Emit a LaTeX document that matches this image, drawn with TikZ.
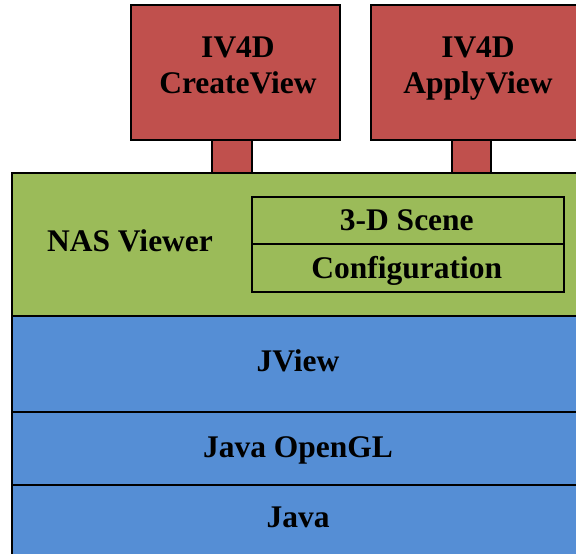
\documentclass[tikz,border=0pt]{standalone}
\usepackage{fontspec}
\setmainfont{Liberation Serif}
\definecolor{redfill}{HTML}{C0504D}
\definecolor{greenfill}{HTML}{9BBB59}
\definecolor{bluefill}{HTML}{558ED5}
\begin{document}
\begin{tikzpicture}[x=1pt,y=-1pt,
  box/.style={draw=black, line width=2pt, rectangle, inner sep=0pt, anchor=north west},
  redbox/.style={box, fill=redfill},
  greenbox/.style={box, fill=greenfill},
  bluebox/.style={box, fill=bluefill},
  lbl/.style={font=\bfseries\fontsize{31.5}{36}\selectfont, align=center, inner sep=0pt}
]
\useasboundingbox (0,0) rectangle (576,554);
\clip (0,0) rectangle (576,554);
% top red boxes
\node[redbox, minimum width=209pt, minimum height=135pt] (cv) at (130,4) {};
\node[redbox, minimum width=209pt, minimum height=135pt] (av) at (370,4) {};
\node[lbl, anchor=north] (cvt) at (238,37) {IV4D\\CreateView};
\node[lbl, anchor=north] (avt) at (478,37) {IV4D\\ApplyView};
% stems
\node[redbox, anchor=north, minimum width=39.5pt, minimum height=33.3pt] (s1) at (232,139) {};
\node[redbox, anchor=north, minimum width=39.5pt, minimum height=33.3pt] (s2) at (471.5,139) {};
% NAS viewer layer
\node[greenbox, minimum width=574pt, minimum height=143pt] (nas) at (11,172.3) {};
\node[lbl, anchor=base] (nast) at (130,251.7) {NAS Viewer};
\node[greenbox, minimum width=311.5pt, minimum height=46.7pt] (scene) at (251,196) {};
\node[lbl, anchor=base] (scenet) at (406.8,230.7) {3-D Scene};
\node[greenbox, minimum width=311.5pt, minimum height=48pt] (conf) at (251,242.7) {};
\node[lbl, anchor=base] (conft) at (406.8,278) {Configuration};
% blue layers
\node[bluebox, minimum width=574pt, minimum height=96pt] (jv) at (11,315) {};
\node[lbl, anchor=base] (jvt) at (298,371.7) {JView};
\node[bluebox, minimum width=574pt, minimum height=72.5pt] (jgl) at (11,411) {};
\node[lbl, anchor=base] (jglt) at (298,457.7) {Java OpenGL};
\node[bluebox, minimum width=574pt, minimum height=80pt] (java) at (11,483.5) {};
\node[lbl, anchor=base] (javat) at (298,527.7) {Java};
\end{tikzpicture}
\end{document}
